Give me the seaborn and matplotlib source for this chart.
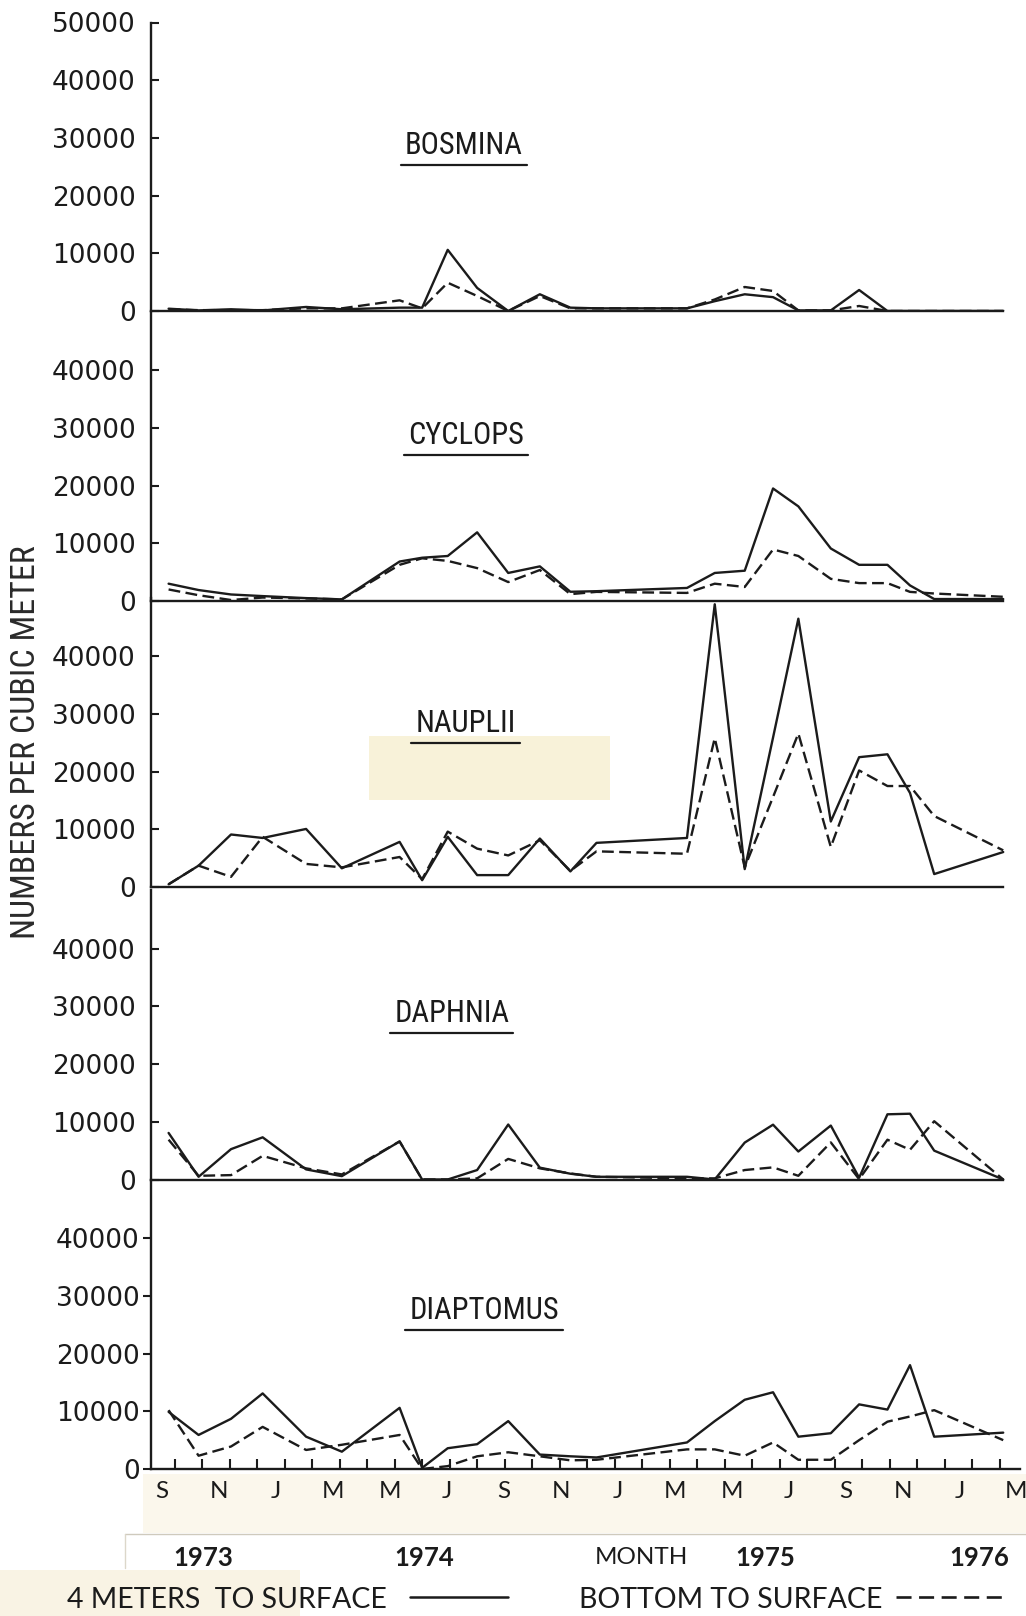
import matplotlib
matplotlib.use("Agg")
import matplotlib.pyplot as plt
import matplotlib.font_manager as fm
from matplotlib.lines import Line2D
from matplotlib.patches import Rectangle
import numpy as np
import pandas as pd
import seaborn as sns

# ---------------- data ----------------
# sampling dates, in months after September 1973 (0 = S 1973, 30 = M 1976)
sample_month = [-0.23, 0.86, 2.04, 3.19, 4.77, 6.07, 8.17, 8.99, 9.92, 10.99,
                12.12, 13.27, 14.38, 15.33, 18.62, 19.63, 20.72, 21.75, 22.67,
                23.85, 24.88, 25.91, 26.73, 27.61, 30.12]

month_labels = ["S", "N", "J", "M", "M", "J", "S", "N", "J", "M", "M", "J", "S", "N", "J", "M"]
year_labels = ["1973", "1974", "1975", "1976"]
panel_names = ["BOSMINA", "CYCLOPS", "NAUPLII", "DAPHNIA", "DIAPTOMUS"]
series_names = ["4 METERS  TO SURFACE", "BOTTOM TO SURFACE"]
y_label = "NUMBERS PER CUBIC METER"

bosmina_4m = [400, 100, 300, 100, 700, 300, 580, 580, 10600, 4000, 0, 2900, 580, 460,
              460, 1700, 2900, 2400, 100, 100, 3640, 0, 0, 0, 0]
bosmina_bottom = [300, 150, 150, 150, 460, 460, 1850, 460, 4900, 2600, 0, 2600, 460, 460,
                  460, 2000, 4160, 3470, 100, 100, 870, 0, 0, 0, 0]

cyclops_4m = [3000, 1900, 1130, 850, 500, 280, 6840, 7500, 7800, 11900, 4860, 6000, 1600,
              1700, 2260, 4860, 5250, 19500, 16400, 9100, 6270, 6270, 2700, 340, 340]
cyclops_bottom = [2000, 1000, 170, 600, 450, 280, 6270, 7400, 6950, 5700, 3280, 5370, 1190,
                  1580, 1400, 3000, 2430, 8930, 7800, 3840, 3100, 3100, 1580, 1300, 730]

nauplii_4m = [470, 3700, 9100, 8500, 10060, 3240, 7820, 1180, 8700, 2060, 2060, 8400, 2700,
              7650, 8500, 49000, 3100, 25900, 46500, 11350, 22500, 23000, 16300, 2240, 6060]
nauplii_bottom = [470, 3700, 1760, 8700, 4000, 3400, 5200, 1350, 9600, 6650, 5470, 8100, 2800,
                  6180, 5760, 25800, 3400, 15600, 26600, 6940, 20200, 17500, 17500, 12300, 6350]

daphnia_4m = [8070, 470, 5260, 7310, 1750, 580, 6600, 0, 0, 1640, 9530, 2050, 1000, 470,
              470, 0, 6400, 9500, 4850, 9350, 300, 11300, 11400, 5000, 0]
daphnia_bottom = [6900, 640, 760, 4100, 1930, 880, 6600, 0, 0, 200, 3570, 1930, 1050, 470,
                  200, 200, 1640, 2100, 640, 6430, 60, 6900, 5150, 10100, 0]

diaptomus_4m = [9900, 5900, 8700, 13100, 5600, 3000, 10600, 200, 3600, 4300, 8300, 2500, 2200,
                2000, 4600, 8300, 12000, 13300, 5600, 6200, 11200, 10300, 18000, 5600, 6300]
diaptomus_bottom = [10200, 2300, 3900, 7300, 3300, 4200, 5900, 0, 500, 2200, 2900, 2200, 1500,
                    1600, 3400, 3400, 2300, 4600, 1600, 1600, 5000, 8200, 9100, 10200, 5000]

panel_series = [(bosmina_4m, bosmina_bottom), (cyclops_4m, cyclops_bottom),
                (nauplii_4m, nauplii_bottom), (daphnia_4m, daphnia_bottom),
                (diaptomus_4m, diaptomus_bottom)]

# ---------------- style ----------------
W, H = 1026, 1616
sns.set_theme(style="white")
available = {f.name for f in fm.fontManager.ttflist}


def pick(cands, default="DejaVu Sans"):
    for c in cands:
        if c in available:
            return c
    return default


narrow = pick(["Liberation Sans Narrow", "Roboto Condensed", "Open Sans Condensed", "Roboto"])
geo = pick(["Lato", "Open Sans"])
plt.rcParams["font.family"] = ["DejaVu Sans"]
ink = "#1b1b1b"
DASH = (5, 2.3)

fig = plt.figure(figsize=(W / 100, H / 100), dpi=100, facecolor="white")


def fx(px):
    return px / W


def fy(py):
    return 1 - py / H


baselines = [311, 601, 887, 1179.5, 1469]
panel_h = 289.5
px_per_10k = 57.7
ytop = panel_h / px_per_10k * 10000
left_px, right_px = 151, 1020
xlim = (-0.87, 30.73)

# paper tints from the scan
fig.patches.append(Rectangle((fx(369), fy(800)), fx(610) - fx(369), (800 - 736) / H,
                             transform=fig.transFigure, facecolor="#f8f2d9", edgecolor="none", zorder=-5))
fig.patches.append(Rectangle((fx(143), fy(1533)), fx(W) - fx(143), (1533 - 1474) / H,
                             transform=fig.transFigure, facecolor="#fbf7ec", edgecolor="none", zorder=-5))
fig.patches.append(Rectangle((0, 0), fx(300), (1616 - 1570) / H,
                             transform=fig.transFigure, facecolor="#f9f3e4", edgecolor="none", zorder=-5))
fig.lines.append(Line2D([fx(125), fx(W)], [fy(1534), fy(1534)], transform=fig.transFigure,
                        color="#cfcabd", lw=1.0, zorder=-4))
fig.lines.append(Line2D([fx(125), fx(125)], [fy(1534), fy(1568)], transform=fig.transFigure,
                        color="#dcd7ca", lw=1.0, zorder=-4))

title_pos = [(10.5, 28600), (10.57, 28600), (10.57, 28400), (10.07, 28700), (11.24, 27400)]

axes = []
titles = []
for i, (name, (s4, sb)) in enumerate(zip(panel_names, panel_series)):
    b = baselines[i]
    ax = fig.add_axes([fx(left_px), fy(b), fx(right_px) - fx(left_px), panel_h / H])
    ax.set_facecolor("none")
    df = pd.DataFrame({
        "month": sample_month * 2,
        "count": list(s4) + list(sb),
        "series": [series_names[0]] * len(s4) + [series_names[1]] * len(sb),
    })
    sns.lineplot(data=df, x="month", y="count", style="series",
                 dashes={series_names[0]: "", series_names[1]: DASH},
                 color=ink, lw=1.7, estimator=None, sort=False, legend=False, ax=ax)
    ax.set_xlim(*xlim)
    ax.set_ylim(0, ytop)
    ax.set_xlabel("")
    ax.set_ylabel("")
    for s in ["top", "right"]:
        ax.spines[s].set_visible(False)
    for s in ["left", "bottom"]:
        ax.spines[s].set_color(ink)
        ax.spines[s].set_linewidth(1.7)
    top_tick = 50000 if i == 0 else 40000
    yt = list(range(0, top_tick + 1, 10000))
    ax.set_yticks(yt)
    ax.set_yticklabels([str(v) for v in yt])
    if i == 0:
        ax.spines["left"].set_bounds(0, 50000)
    last = i == len(panel_names) - 1
    ax.tick_params(axis="y", direction="out" if last else "in", length=6, width=1.5,
                   colors=ink, labelsize=19, pad=2 if last else 11, left=True)
    for lab in ax.get_yticklabels():
        lab.set_fontfamily("DejaVu Sans")
    if not last:
        ax.spines["bottom"].set_bounds(xlim[0], sample_month[-1])
        ax.set_xticks([])
    else:
        ax.set_xticks(np.linspace(-0.47, 30.6, len(month_labels)))
        ax.set_xticklabels(month_labels)
        ax.set_xticks(range(0, 31), minor=True)
        ax.tick_params(axis="x", which="major", length=0, pad=9, labelsize=17.5, colors=ink)
        ax.tick_params(axis="x", which="minor", direction="in", length=7, width=1.5,
                       colors=ink, bottom=True)
        for lab in ax.get_xticklabels():
            lab.set_fontfamily(geo)
    tx, ty = title_pos[i]
    t = ax.text(tx, ty, name, ha="center", va="center", fontfamily=narrow,
                fontsize=22, color=ink)
    titles.append(t)
    axes.append(ax)

# y-axis label
fig.text(fx(26), fy(742), y_label, rotation=90, ha="center", va="center",
         fontfamily=narrow, fontsize=24.5, color="#2a2a2a")

# years and MONTH
year_px = [203, 424, 765, 979]
for lab, xp in zip(year_labels, year_px):
    fig.text(fx(xp), fy(1558), lab, ha="center", va="center", fontfamily=geo,
             fontweight="bold", fontsize=18.5, color=ink)
fig.text(fx(641), fy(1558), "MONTH", ha="center", va="center", fontfamily=geo,
         fontsize=17.5, color=ink)

# legend
fig.text(fx(67), fy(1600), series_names[0], ha="left", va="center", fontfamily=geo,
         fontsize=20.5, color=ink)
fig.lines.append(Line2D([fx(410), fx(508)], [fy(1597), fy(1597)], transform=fig.transFigure,
                        color=ink, lw=1.8))
fig.text(fx(579), fy(1600), series_names[1], ha="left", va="center", fontfamily=geo,
         fontsize=20.5, color=ink)
fig.lines.append(Line2D([fx(896), fx(1003)], [fy(1597), fy(1597)], transform=fig.transFigure,
                        color=ink, lw=1.9, linestyle=(0, (5.7, 2.85))))

# underline the panel titles
fig.canvas.draw()
inv = fig.transFigure.inverted()
for t in titles:
    bb = t.get_window_extent()
    (x0, y0), (x1, _) = inv.transform([(bb.x0 - 4, bb.y0 - 5), (bb.x1 + 4, bb.y0 - 5)])
    fig.lines.append(Line2D([x0, x1], [y0, y0], transform=fig.transFigure, color=ink, lw=1.6))

fig.savefig("out.png", dpi=100, facecolor="white")
